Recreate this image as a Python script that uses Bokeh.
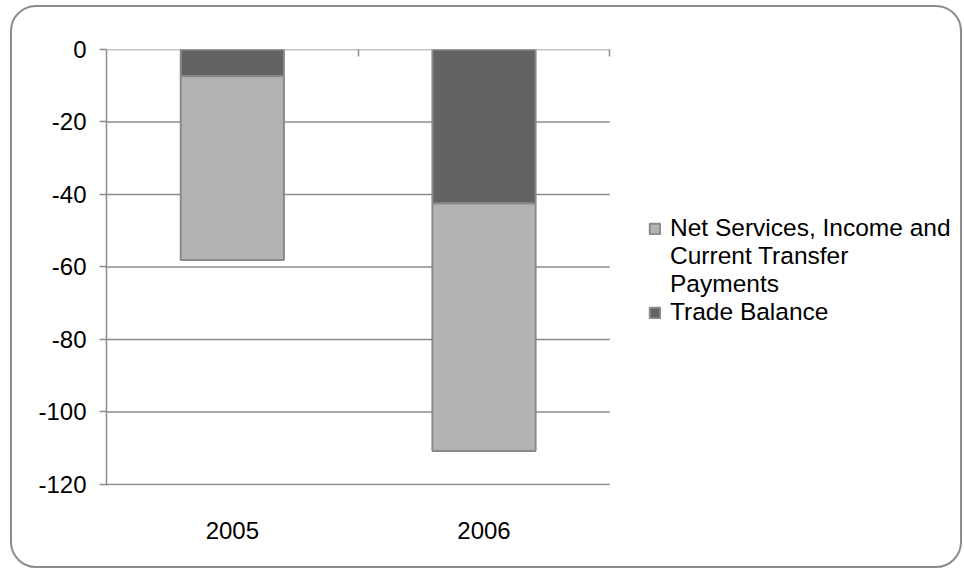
from bokeh.plotting import figure
from bokeh.models import (ColumnDataSource, Range1d, LinearAxis, FixedTicker,
                          Legend, LegendItem)
from bokeh.embed import file_html
from bokeh.resources import INLINE

# Balance components (billions), stacked downward from zero
years = ["2005", "2006"]
trade_balance = [-7.4, -42.5]
net_services = [-50.7, -68.3]
y_ticks = [0, -20, -40, -60, -80, -100, -120]
net_label_lines = ["Net Services, Income and", "Current Transfer", "Payments"]
trade_label = "Trade Balance"

FONT = "Liberation Sans"
GRID = "#8c8c8c"
DARK = "#636363"
LIGHT = "#b3b3b3"

# Frame runs across the whole card; the bar area uses the first BAR_W px of it
# and the legend sits in the remainder.
LEFT, FRAME_W, BAR_W = 94, 854, 501
n = len(years)
x_end = n * FRAME_W / BAR_W

# each category occupies one unit; bars sit at the slot centres
centers = [i + 0.5 for i in range(n)]
source = ColumnDataSource(dict(x=centers, trade=trade_balance, net=net_services))

p = figure(width=952, height=563, x_range=Range1d(0, x_end),
           y_range=Range1d(-120.3, 0), output_backend="svg", toolbar_location=None,
           min_border_left=LEFT, min_border_right=0, min_border_top=42,
           min_border_bottom=85)
p.margin = (5, 0, 0, 10)
p.styles = {"border": "2px solid #8c8c8c", "border-radius": "26px"}
p.outline_line_color = None
p.background_fill_color = None
p.border_fill_color = None
p.xgrid.visible = False
p.ygrid.visible = False

# category axis: labels only
xa = p.xaxis[0]
xa.ticker = FixedTicker(ticks=centers)
xa.major_label_overrides = {c: y for c, y in zip(centers, years)}
xa.axis_line_color = None
xa.major_tick_line_color = None
xa.minor_tick_line_color = None
xa.major_label_text_font = FONT
xa.major_label_text_font_size = "24px"
xa.major_label_text_color = "black"
xa.major_label_standoff = 30

# value axis, hyphen-minus labels
ya = p.yaxis[0]
ya.ticker = FixedTicker(ticks=y_ticks)
ya.major_label_overrides = {t: str(t) for t in y_ticks}
ya.axis_line_color = GRID
ya.axis_line_width = 1.5
ya.major_tick_line_color = GRID
ya.major_tick_line_width = 1.5
ya.major_tick_in = 0
ya.major_tick_out = 7
ya.minor_tick_line_color = None
ya.major_label_text_font = FONT
ya.major_label_text_font_size = "24px"
ya.major_label_text_color = "black"
ya.major_label_standoff = 13

# horizontal gridlines across the bar area only
p.segment(x0=0, x1=n, y0=y_ticks, y1=y_ticks, line_color=GRID, line_width=1.5)

# category boundary ticks hanging from the zero line
edges = list(range(1, n + 1))
top = LinearAxis(ticker=FixedTicker(ticks=edges))
top.major_label_overrides = {e: "" for e in edges}
top.axis_line_color = None
top.major_tick_line_color = GRID
top.major_tick_line_width = 1.5
top.major_tick_in = 7
top.major_tick_out = 0
top.minor_tick_line_color = None
top.major_label_standoff = 0
p.add_layout(top, "above")

trade_r, net_r = p.vbar_stack(["trade", "net"], x="x", width=0.41,
                              fill_color=[DARK, LIGHT], line_color="#8a8a8a",
                              line_width=2, source=source)

# invisible swatch for the wrapped lines of the first label
blank = p.vbar(x=[], top=[], width=0.4, fill_alpha=0, line_alpha=0)

items = [LegendItem(label=net_label_lines[0], renderers=[net_r])]
items += [LegendItem(label=t, renderers=[blank]) for t in net_label_lines[1:]]
items.append(LegendItem(label=trade_label, renderers=[trade_r]))

legend = Legend(items=items, location=(BAR_W + 41, 159))
legend.label_text_font = FONT
legend.label_text_font_size = "24.5px"
legend.label_text_color = "black"
legend.label_height = 28
legend.glyph_width = 13
legend.glyph_height = 13
legend.label_standoff = 9
legend.spacing = 0
legend.padding = 0
legend.margin = 0
legend.border_line_color = None
legend.background_fill_alpha = 0
p.add_layout(legend)

open("out.html", "w").write(file_html(p, INLINE))
